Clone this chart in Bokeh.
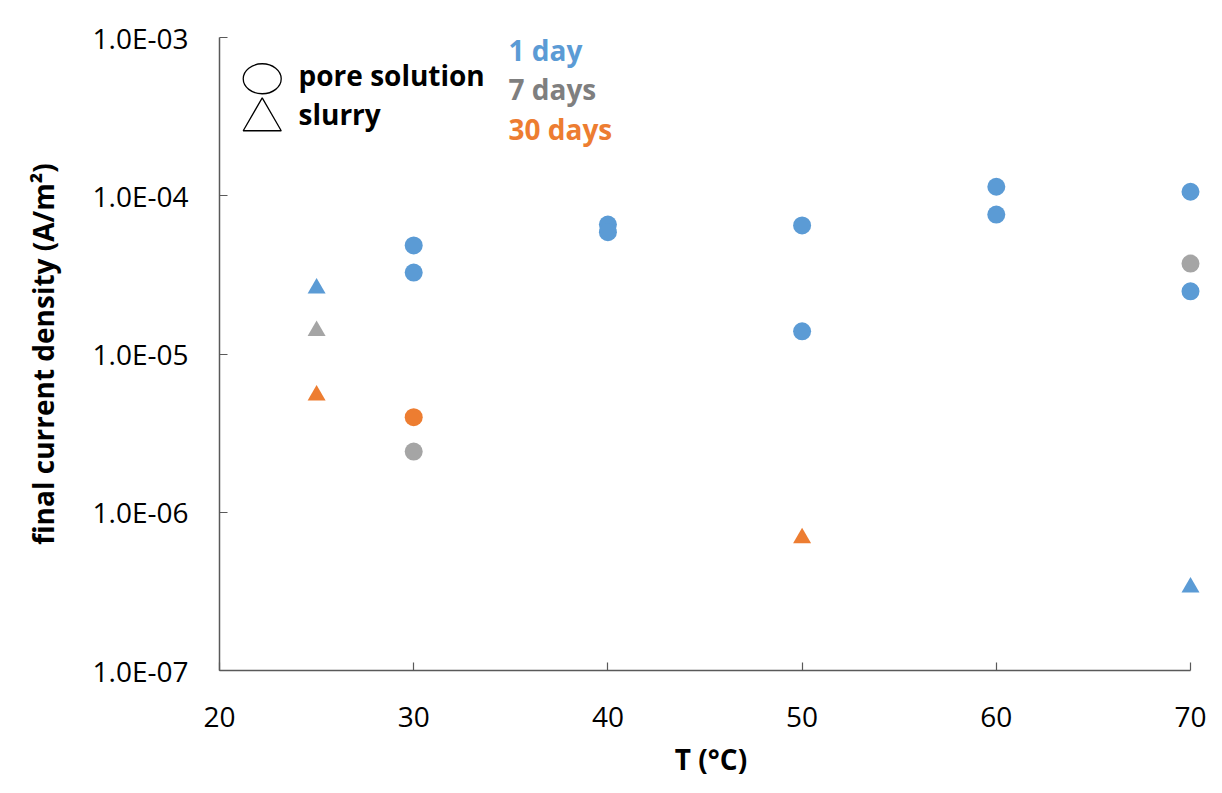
import math
from bokeh.plotting import figure
from bokeh.models import Range1d, FixedTicker, CustomJSTickFormatter, Label, BoxAnnotation
from bokeh.embed import file_html
from bokeh.resources import INLINE

# ---------------- data ----------------
# pore solution (circles)
pore_1d_T = [30, 30, 40, 40, 50, 50, 60, 60, 70, 70]
pore_1d_J = [4.85e-5, 3.27e-5, 6.58e-5, 5.89e-5, 6.49e-5, 1.39e-5, 1.14e-4, 7.61e-5, 1.06e-4, 2.49e-5]
pore_7d_T = [30, 70]
pore_7d_J = [2.42e-6, 3.73e-5]
pore_30d_T = [30]
pore_30d_J = [3.99e-6]
# slurry (triangles)
slurry_1d_T = [25, 70]
slurry_1d_J = [2.60e-5, 3.35e-7]
slurry_7d_T = [25]
slurry_7d_J = [1.40e-5]
slurry_30d_T = [25, 50]
slurry_30d_J = [5.48e-6, 6.86e-7]

x_ticks = [20, 30, 40, 50, 60, 70]
y_ticks = [1e-7, 1e-6, 1e-5, 1e-4, 1e-3]
age_labels = ["1 day", "7 days", "30 days"]
type_labels = ["pore solution", "slurry"]

BLUE = "#5B9BD5"
GRAY = "#A5A5A5"
ORANGE = "#ED7D31"
TEXT_GRAY = "#7F7F7F"
FONT = "Open Sans"

X0, X1 = 20, 70
Y0, Y1 = 1e-7, 1e-3
# small extra room right of the last tick so markers at 70 are not clipped
X_PAD = 12 * (X1 - X0) / 971.0

p = figure(width=1214, height=785,
           x_range=Range1d(X0, X1 + X_PAD), y_range=Range1d(Y0, Y1),
           y_axis_type="log", output_backend="svg", toolbar_location=None,
           min_border_left=219, min_border_right=12,
           min_border_top=37, min_border_bottom=115)
p.outline_line_color = None
p.grid.visible = False
p.background_fill_color = "white"
p.border_fill_color = "white"

# light chart-area border (top and left edges)
p.add_layout(BoxAnnotation(left=9, top=9, right=3000, bottom=3000,
                           left_units="canvas", right_units="canvas",
                           top_units="canvas", bottom_units="canvas",
                           fill_color=None, line_color="#D9D9D9", line_width=1.5))

p.xaxis.ticker = FixedTicker(ticks=x_ticks, minor_ticks=[])
p.xaxis.bounds = (X0, X1)
p.yaxis.ticker = FixedTicker(ticks=y_ticks, minor_ticks=[])
p.yaxis.formatter = CustomJSTickFormatter(code="""
    var s = tick.toExponential(1).toUpperCase();
    return s.replace(/E([+-])(\\d)$/, 'E$10$2');
""")
p.xaxis.axis_label = "T (°C)"
p.yaxis.axis_label = "final current density (A/m²)"

for ax in (p.xaxis[0], p.yaxis[0]):
    ax.axis_line_color = "#595959"
    ax.axis_line_width = 1.5
    ax.major_tick_line_color = "#595959"
    ax.major_tick_line_width = 1.2
    ax.major_tick_in = 8
    ax.major_tick_out = 0
    ax.minor_tick_in = 0
    ax.minor_tick_out = 0
    ax.major_label_text_font = FONT
    ax.major_label_text_font_size = "28px"
    ax.major_label_text_color = "black"
    ax.axis_label_text_font = FONT
    ax.axis_label_text_font_size = "28px"
    ax.axis_label_text_font_style = "bold"
    ax.axis_label_text_color = "black"

p.xaxis.major_label_standoff = 36
p.xaxis.axis_label_standoff = 10
p.yaxis.major_label_standoff = 31
p.yaxis.axis_label_standoff = 28

SZ = 18
p.scatter(pore_1d_T, pore_1d_J, marker="circle", size=SZ, fill_color=BLUE, line_color=None)
p.scatter(pore_7d_T, pore_7d_J, marker="circle", size=SZ, fill_color=GRAY, line_color=None)
p.scatter(pore_30d_T, pore_30d_J, marker="circle", size=SZ, fill_color=ORANGE, line_color=None)
p.scatter(slurry_1d_T, slurry_1d_J, marker="triangle", size=SZ, fill_color=BLUE, line_color=None)
p.scatter(slurry_7d_T, slurry_7d_J, marker="triangle", size=SZ, fill_color=GRAY, line_color=None)
p.scatter(slurry_30d_T, slurry_30d_J, marker="triangle", size=SZ, fill_color=ORANGE, line_color=None)

# ---- legend, placed by fractions of the 20..70 / 1e-7..1e-3 frame ----
def fx(f):
    return X0 + f * (X1 - X0)

def fy(f):
    return 10 ** (math.log10(Y0) + f * (math.log10(Y1) - math.log10(Y0)))

p.ellipse(x=[fx(0.044)], y=[fy(0.9348)], width=38, height=30,
          width_units="screen", height_units="screen",
          fill_color=None, line_color="black", line_width=1.3)
p.scatter(x=[fx(0.044)], y=[fy(0.8700)], marker="triangle", size=38,
          fill_color=None, line_color="black", line_width=1.3)

for txt, f in zip(type_labels, [0.9415, 0.8799]):
    p.add_layout(Label(x=fx(0.0814), y=fy(f), text=txt, text_font=FONT,
                       text_font_style="bold", text_font_size="28px",
                       text_color="black", text_baseline="alphabetic"))

for txt, f, c in zip(age_labels, [0.9795, 0.9179, 0.8562], [BLUE, TEXT_GRAY, ORANGE]):
    p.add_layout(Label(x=fx(0.2976), y=fy(f), text=txt, text_font=FONT,
                       text_font_style="bold", text_font_size="28px",
                       text_color=c, text_baseline="alphabetic"))

open("out.html", "w").write(file_html(p, INLINE))
